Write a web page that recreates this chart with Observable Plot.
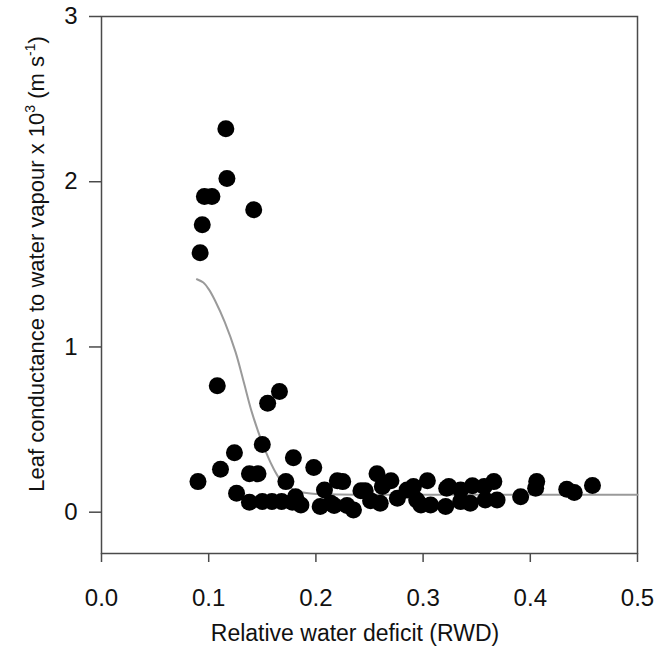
<!DOCTYPE html>
<html>
<head>
<meta charset="utf-8">
<script src="https://cdn.jsdelivr.net/npm/d3@7"></script>
<script src="https://cdn.jsdelivr.net/npm/@observablehq/plot@0.6"></script>
<style>
  html, body { margin: 0; padding: 0; background: #fff; }
  #chart svg { display: block; }
</style>
</head>
<body>
<div id="chart"></div>
<script>
// Observed points: relative water deficit (x) vs leaf conductance x10^3 (y)
const rwd = [
  0.116, 0.117, 0.096, 0.103, 0.142, 0.094, 0.092,
  0.108, 0.166, 0.155, 0.150, 0.124, 0.179, 0.198, 0.111, 0.090, 0.138, 0.146, 0.172, 0.126,
  0.138, 0.150, 0.159, 0.168, 0.178, 0.186, 0.181, 0.204, 0.208, 0.214, 0.217, 0.220, 0.225,
  0.229, 0.235, 0.242, 0.246, 0.251, 0.257, 0.260, 0.262, 0.270, 0.276, 0.285, 0.291, 0.294,
  0.298, 0.304, 0.307, 0.321, 0.322, 0.324, 0.335, 0.335, 0.344, 0.346, 0.357, 0.358, 0.366,
  0.369, 0.391, 0.405, 0.406, 0.434, 0.441, 0.458
];
const conductance = [
  2.32, 2.02, 1.91, 1.91, 1.83, 1.74, 1.57,
  0.765, 0.73, 0.66, 0.41, 0.36, 0.33, 0.27, 0.26, 0.185, 0.232, 0.232, 0.185, 0.115,
  0.06, 0.065, 0.065, 0.065, 0.06, 0.044, 0.094, 0.034, 0.135, 0.054, 0.04, 0.19, 0.185,
  0.04, 0.014, 0.13, 0.13, 0.07, 0.232, 0.054, 0.155, 0.19, 0.085, 0.135, 0.155, 0.074,
  0.044, 0.19, 0.044, 0.034, 0.145, 0.155, 0.135, 0.064, 0.054, 0.16, 0.155, 0.074, 0.185,
  0.074, 0.094, 0.145, 0.185, 0.139, 0.119, 0.161
];
// Fitted curve
const fitX = [0.089, 0.095, 0.100, 0.106, 0.115, 0.125, 0.133, 0.140, 0.150, 0.160, 0.167, 0.175, 0.183, 0.195, 0.210, 0.250, 0.350, 0.500];
const fitY = [1.41, 1.39, 1.35, 1.28, 1.15, 0.97, 0.78, 0.61, 0.42, 0.27, 0.195, 0.15, 0.127, 0.113, 0.108, 0.106, 0.105, 0.105];
const xTicks = [0, 0.1, 0.2, 0.3, 0.4, 0.5];
const yTicks = [0, 1, 2, 3];

const points = rwd.map((x, i) => ({x, y: conductance[i]}));
const fit = fitX.map((x, i) => ({x, y: fitY[i]}));

const font = "'Liberation Sans', Arial, sans-serif";
const axisColor = "#4a4a4a";

const chart = Plot.plot({
  width: 657,
  height: 650,
  marginLeft: 101,
  marginRight: 20,
  marginTop: 16,
  marginBottom: 97,
  style: {fontFamily: font, fontSize: "24px", color: "#111", background: "#fff"},
  x: {domain: [0, 0.5]},
  y: {domain: [-0.25, 3]},
  marks: [
    Plot.frame({stroke: axisColor, strokeWidth: 1.5}),
    Plot.axisX({ticks: xTicks, tickFormat: d3.format(".1f"), tickSize: 9, tickPadding: 26, stroke: axisColor, strokeWidth: 1.5, label: null, fontSize: 24}),
    Plot.axisY({ticks: yTicks, tickFormat: d3.format("d"), tickSize: 12, tickPadding: 12, stroke: axisColor, strokeWidth: 1.5, label: null, fontSize: 24}),
    Plot.line(fit, {x: "x", y: "y", stroke: "#9a9a9a", strokeWidth: 2, curve: "catmull-rom"}),
    Plot.dot(points, {x: "x", y: "y", r: 8.5, fill: "#000", stroke: "none"})
  ]
});

document.getElementById("chart").appendChild(chart);

// Axis titles with real superscripts
const svg = d3.select(chart);
svg.append("text")
  .attr("x", 355).attr("y", 641)
  .attr("text-anchor", "middle")
  .attr("font-family", font).attr("font-size", 23).attr("fill", "#111")
  .text("Relative water deficit (RWD)");

const yl = svg.append("text")
  .attr("transform", "translate(44,264) rotate(-90)")
  .attr("text-anchor", "middle")
  .attr("font-family", font).attr("font-size", 22).attr("fill", "#111");
yl.append("tspan").text("Leaf conductance to water vapour x 10");
yl.append("tspan").attr("font-size", 14).attr("dy", -9).text("3");
yl.append("tspan").attr("dy", 9).text(" (m s");
yl.append("tspan").attr("font-size", 14).attr("dy", -9).text("-1");
yl.append("tspan").attr("dy", 9).text(")");
</script>
</body>
</html>
